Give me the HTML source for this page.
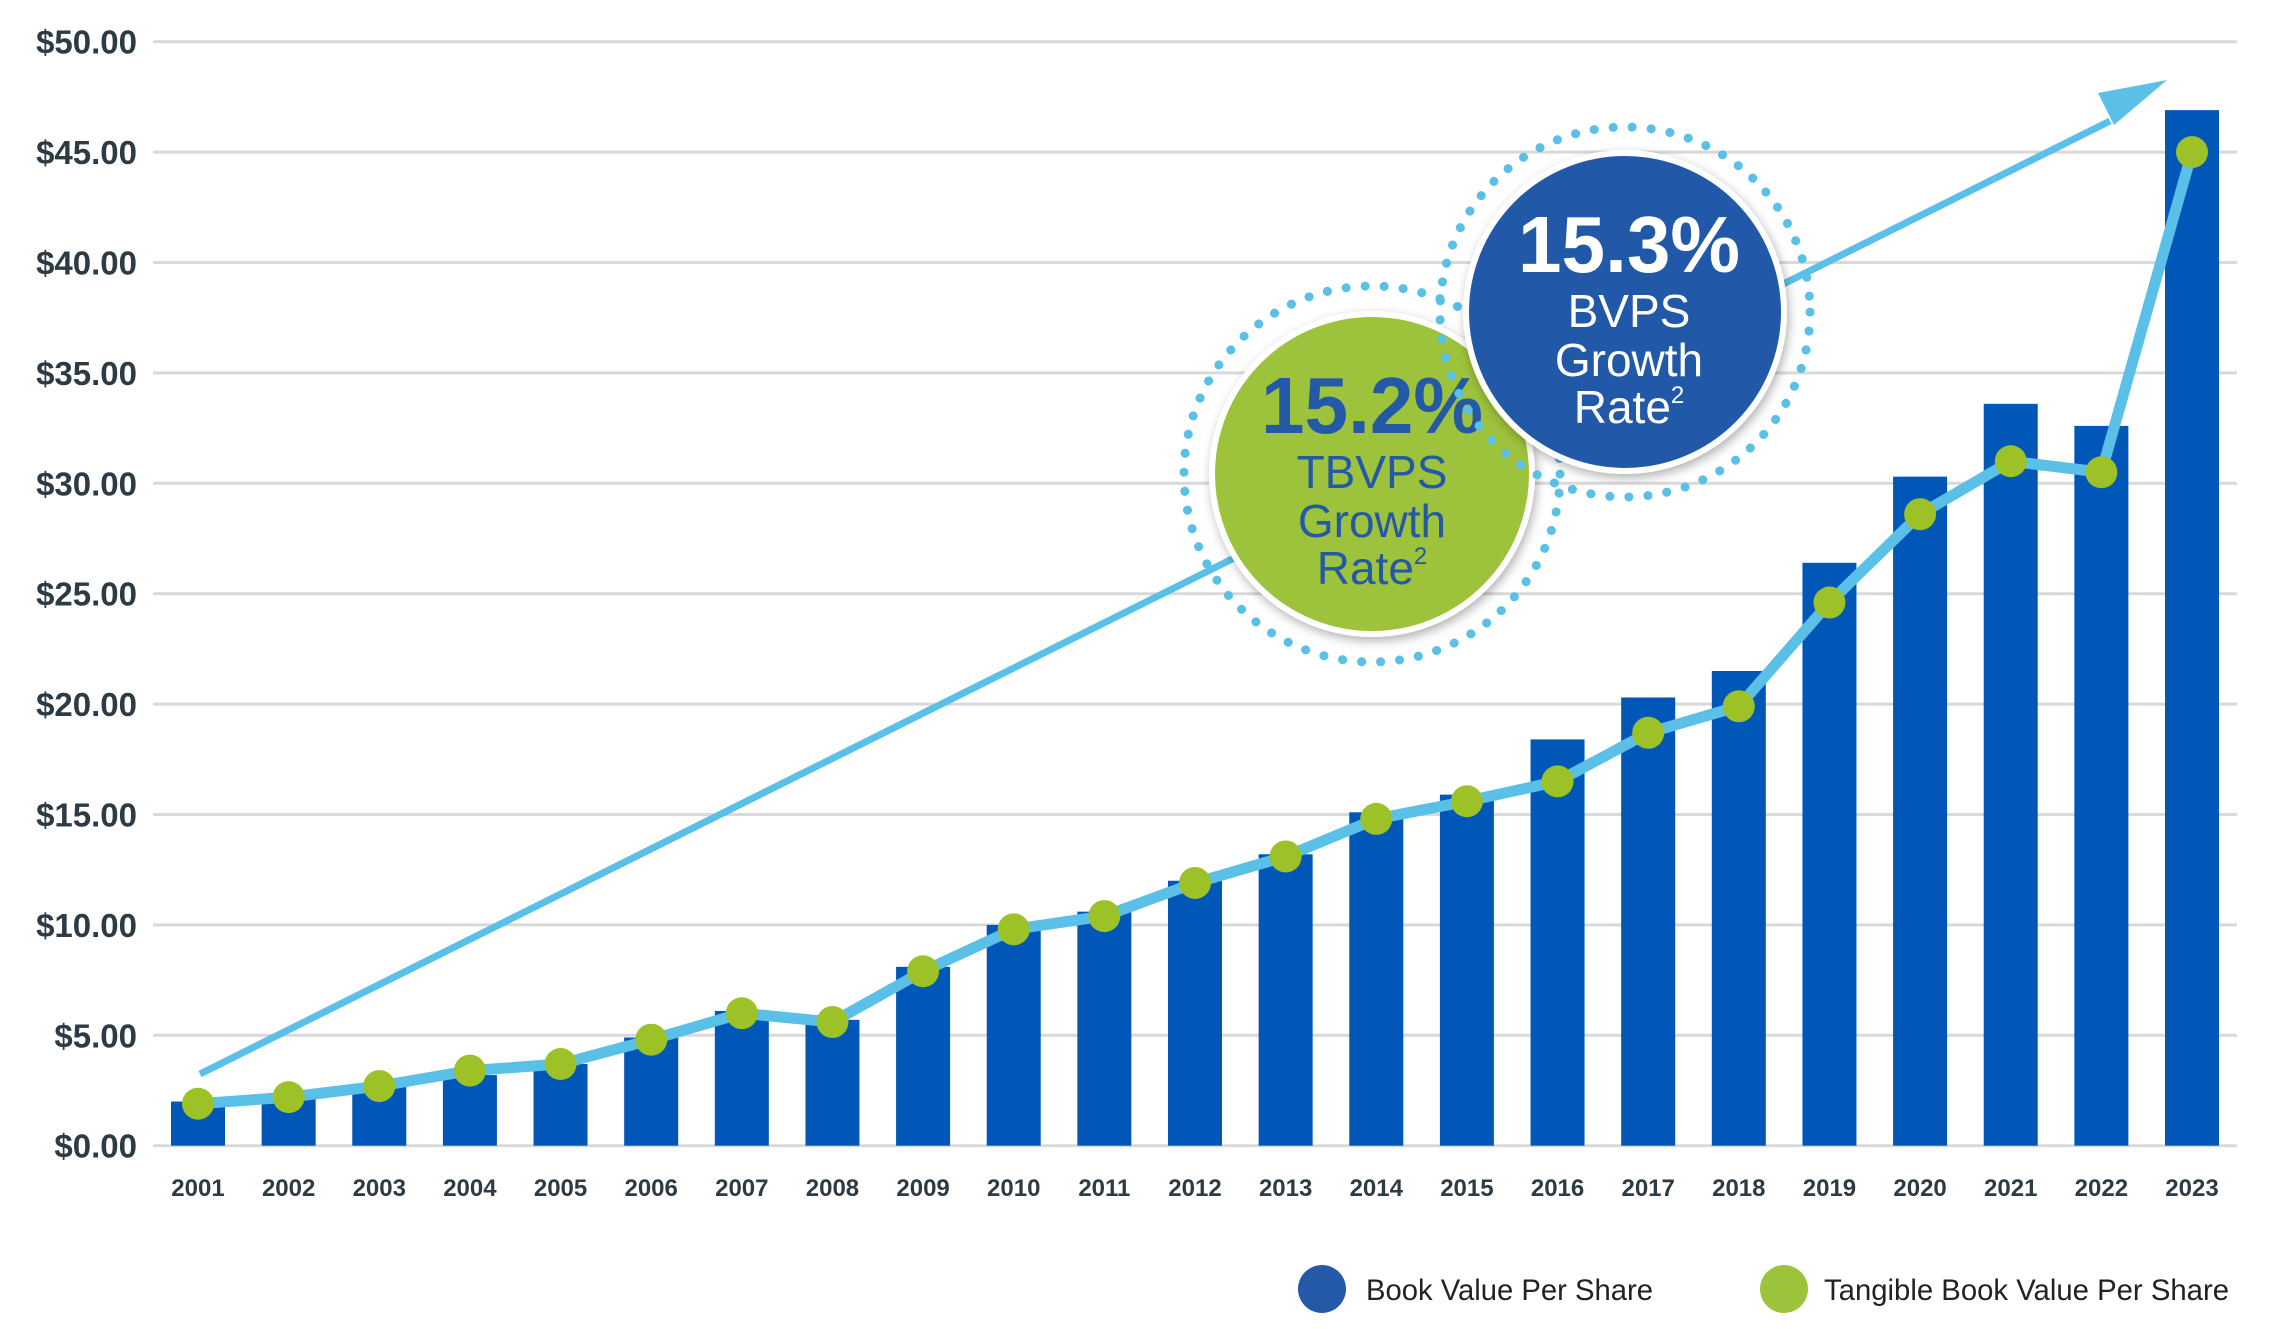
<!DOCTYPE html>
<html><head><meta charset="utf-8"><style>
html,body{margin:0;padding:0;background:#fff;}
svg{display:block;font-family:"Liberation Sans",sans-serif;}
</style></head><body>
<svg id="chart" width="2296" height="1329" viewBox="0 0 2296 1329">
<defs>
<filter id="sh" x="-20%" y="-20%" width="140%" height="140%"><feDropShadow dx="2" dy="4" stdDeviation="5" flood-color="#000" flood-opacity="0.3"/></filter>
</defs>
<g id="grid"></g>
<g id="ylabels"></g>
<g id="bars"></g>
<line x1="200" y1="1074" x2="2110" y2="121" stroke="#5bc0e8" stroke-width="7"/>
<polygon points="2167,80 2098,93 2114,125" fill="#5bc0e8"/>
<g id="line"></g>
<g id="xlabels"></g>

<g>
<circle cx="1372" cy="474" r="188" fill="none" stroke="#5bc0e8" stroke-width="9" stroke-dasharray="0.1 19" stroke-linecap="round"/>
<circle cx="1372" cy="474" r="160" fill="#9dc23b" stroke="#fff" stroke-width="6" filter="url(#sh)"/>
<text x="1372" y="433" text-anchor="middle" font-size="80" font-weight="bold" fill="#2459a8" textLength="222" lengthAdjust="spacingAndGlyphs">15.2%</text>
<text x="1372" y="488" text-anchor="middle" font-size="46" fill="#2459a8">TBVPS</text>
<text x="1372" y="537" text-anchor="middle" font-size="46" fill="#2459a8">Growth</text>
<text x="1372" y="584" text-anchor="middle" font-size="46" fill="#2459a8">Rate<tspan font-size="24" dy="-20">2</tspan></text>
</g>
<g>
<circle cx="1625" cy="312" r="185" fill="none" stroke="#5bc0e8" stroke-width="9" stroke-dasharray="0.1 19" stroke-linecap="round"/>
<circle cx="1625" cy="312" r="159" fill="#2459a8" stroke="#fff" stroke-width="6" filter="url(#sh)"/>
<text x="1629" y="272" text-anchor="middle" font-size="80" font-weight="bold" fill="#fff" textLength="222" lengthAdjust="spacingAndGlyphs">15.3%</text>
<text x="1629" y="327" text-anchor="middle" font-size="46" fill="#fff">BVPS</text>
<text x="1629" y="376" text-anchor="middle" font-size="46" fill="#fff">Growth</text>
<text x="1629" y="423" text-anchor="middle" font-size="46" fill="#fff">Rate<tspan font-size="24" dy="-20">2</tspan></text>
</g>

<g>
<g>
<circle cx="1322" cy="1289" r="24" fill="#2459a8"/>
<text x="1366" y="1300" font-size="30" fill="#222" textLength="287" lengthAdjust="spacingAndGlyphs">Book Value Per Share</text>
</g>
<g>
<circle cx="1784" cy="1289" r="24" fill="#9dc23b"/>
<text x="1824" y="1300" font-size="30" fill="#222" textLength="405" lengthAdjust="spacingAndGlyphs">Tangible Book Value Per Share</text>
</g>
</g>
</svg>
<script>
const years = ["2001","2002","2003","2004","2005","2006","2007","2008","2009","2010","2011","2012","2013","2014","2015","2016","2017","2018","2019","2020","2021","2022","2023"];
const bvps = [2.0,2.3,2.7,3.2,3.7,4.9,6.1,5.7,8.1,10.0,10.6,12.0,13.2,15.1,15.9,18.4,20.3,21.5,26.4,30.3,33.6,32.6,46.9];
const tbvps = [1.9,2.2,2.7,3.4,3.7,4.8,6.0,5.6,7.9,9.8,10.4,11.9,13.1,14.8,15.6,16.5,18.7,19.9,24.6,28.6,31.0,30.5,45.0];
const yTicks = [0,5,10,15,20,25,30,35,40,45,50];
const yTickLabels = ["$0.00","$5.00","$10.00","$15.00","$20.00","$25.00","$30.00","$35.00","$40.00","$45.00","$50.00"];

const NS="http://www.w3.org/2000/svg";
const y0=1145.7, y50=41.7, xFirst=198, xLast=2192, barW=54;
function yScale(v){return y0-(v/50)*(y0-y50);}
function xScale(i){return xFirst+i*(xLast-xFirst)/(years.length-1);}
function mk(tag,attrs,parent){const e=document.createElementNS(NS,tag);for(const k in attrs)e.setAttribute(k,attrs[k]);parent.appendChild(e);return e;}

const grid=document.getElementById('grid'), yl=document.getElementById('ylabels');
yTicks.forEach((t,i)=>{
  const l=mk('line',{x1:153,x2:2237,y1:yScale(t),y2:yScale(t),stroke:'#d9d9d9','stroke-width':3},grid);
  
  
  const tx=mk('text',{x:137,y:yScale(t)+12,'text-anchor':'end','font-size':33,'font-weight':'bold',fill:'#2d3b45'},yl);
  tx.textContent=yTickLabels[i];
  
  
});
const bars=document.getElementById('bars'), xl=document.getElementById('xlabels');
years.forEach((yr,i)=>{
  const b=mk('rect',{x:xScale(i)-barW/2,y:yScale(bvps[i]),width:barW,height:y0-yScale(bvps[i]),fill:'#0057b8'},bars);
  
  
  const tx=mk('text',{x:xScale(i),y:1196,'text-anchor':'middle','font-size':24,'font-weight':'bold',fill:'#2d3b45'},xl);
  tx.textContent=yr;
  
  
});
const lg=document.getElementById('line');
const pts=tbvps.map((v,i)=>xScale(i)+','+yScale(v)).join(' ');
const pl=mk('polyline',{points:pts,fill:'none',stroke:'#5bc0e8','stroke-width':11,'stroke-linejoin':'round'},lg);


tbvps.forEach((v,i)=>{
  const c=mk('circle',{cx:xScale(i),cy:yScale(v),r:16,fill:'#9cc227'},lg);
  
  
});
</script>
</body></html>
